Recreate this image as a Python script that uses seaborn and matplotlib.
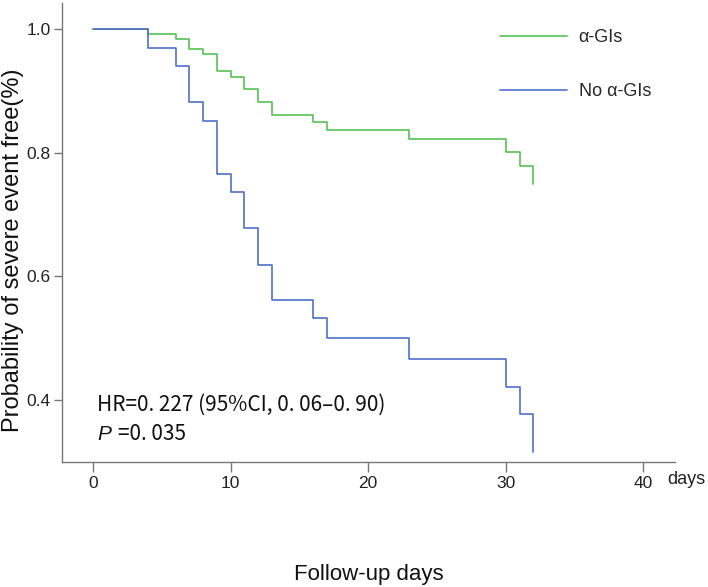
import matplotlib
matplotlib.use("Agg")
import numpy as np
import pandas as pd
import seaborn as sns
import matplotlib.pyplot as plt

# ---- data ----
groups = ["α-GIs", "No α-GIs"]
days_green = [0, 4, 6, 7, 8, 9, 10, 11, 12, 13, 16, 17, 23, 30, 31, 32]
surv_green = [1.0, 0.992, 0.984, 0.968, 0.959, 0.932, 0.922, 0.903, 0.882,
              0.861, 0.849, 0.836, 0.822, 0.801, 0.778, 0.749]
days_blue = [0, 4, 6, 7, 8, 9, 10, 11, 12, 13, 16, 17, 23, 30, 31, 32]
surv_blue = [1.0, 0.970, 0.940, 0.882, 0.852, 0.766, 0.736, 0.678, 0.619,
             0.562, 0.532, 0.501, 0.466, 0.422, 0.377, 0.316]
x_ticks = [0, 10, 20, 30, 40]
y_ticks = [0.4, 0.6, 0.8, 1.0]
y_ticklabels = ["0.4", "0.6", "0.8", "1.0"]
hr_text = "HR=0. 227 (95%CI, 0. 06–0. 90)"
p_value_text = "=0. 035"

df = pd.concat([
    pd.DataFrame({"day": days_green, "surv": surv_green, "group": groups[0]}),
    pd.DataFrame({"day": days_blue, "surv": surv_blue, "group": groups[1]}),
], ignore_index=True)

sns.set_theme(style="white")
plt.rcParams["font.family"] = ["Liberation Sans", "DejaVu Sans"]

W, H = 708, 587
fig = plt.figure(figsize=(W / 100, H / 100), dpi=100)
ax_left, ax_right, ax_top, ax_bottom = 62, 675, 3, 462
ax = fig.add_axes([ax_left / W, 1 - ax_bottom / H, (ax_right - ax_left) / W,
                   (ax_bottom - ax_top) / H])

palette = {groups[0]: "#55C255", groups[1]: "#4F6FCB"}
sns.lineplot(data=df, x="day", y="surv", hue="group", palette=palette,
             drawstyle="steps-post", estimator=None, sort=False,
             linewidth=1.2, ax=ax, legend=True)

ax.set_xlim(-2.25, 42.3)
ax.set_ylim(0.30, 1.042)
ax.set_xticks(x_ticks)
ax.set_yticks(y_ticks)
ax.set_yticklabels(y_ticklabels)

for s in ["top", "right"]:
    ax.spines[s].set_visible(False)
for s in ["left", "bottom"]:
    ax.spines[s].set_color("#777777")
    ax.spines[s].set_linewidth(1.0)
ax.tick_params(axis="y", direction="out", length=6, width=1.0,
               color="#777777", labelsize=12.5, labelcolor="#222222",
               left=True, pad=2)
ax.tick_params(axis="x", direction="out", length=7, width=1.0,
               color="#777777", labelsize=12.5, labelcolor="#222222",
               bottom=True, pad=3)

ax.set_xlabel("Follow-up days", fontsize=16, color="#111111")
ax.set_ylabel("Probability of severe event free(%)", fontsize=17, color="#111111")
ax.yaxis.set_label_coords(-0.062, 0.462)
ax.xaxis.set_label_coords(0.5, -0.222)

sns.move_legend(ax, "upper left", bbox_to_anchor=(500 / W, 1 - 29 / H),
                bbox_transform=fig.transFigure, frameon=False, title=None,
                fontsize=13, handlelength=3.7, handletextpad=0.66,
                labelspacing=2.05, borderpad=0, borderaxespad=0)

cjk = ["Noto Sans CJK SC", "DejaVu Sans"]
fig.text(97 / W, 1 - 405 / H, hr_text, fontsize=15, family=cjk,
         va="center", ha="left", color="#111111")
fig.text(97 / W, 1 - 434 / H, "P", fontsize=15, style="italic",
         va="center", ha="left", color="#111111")
fig.text(118 / W, 1 - 434 / H, p_value_text, fontsize=15, family=cjk,
         va="center", ha="left", color="#111111")
fig.text(667 / W, 1 - 480 / H, "days", fontsize=13, va="center", ha="left",
         color="#222222")

fig.savefig("out.png", dpi=100)
